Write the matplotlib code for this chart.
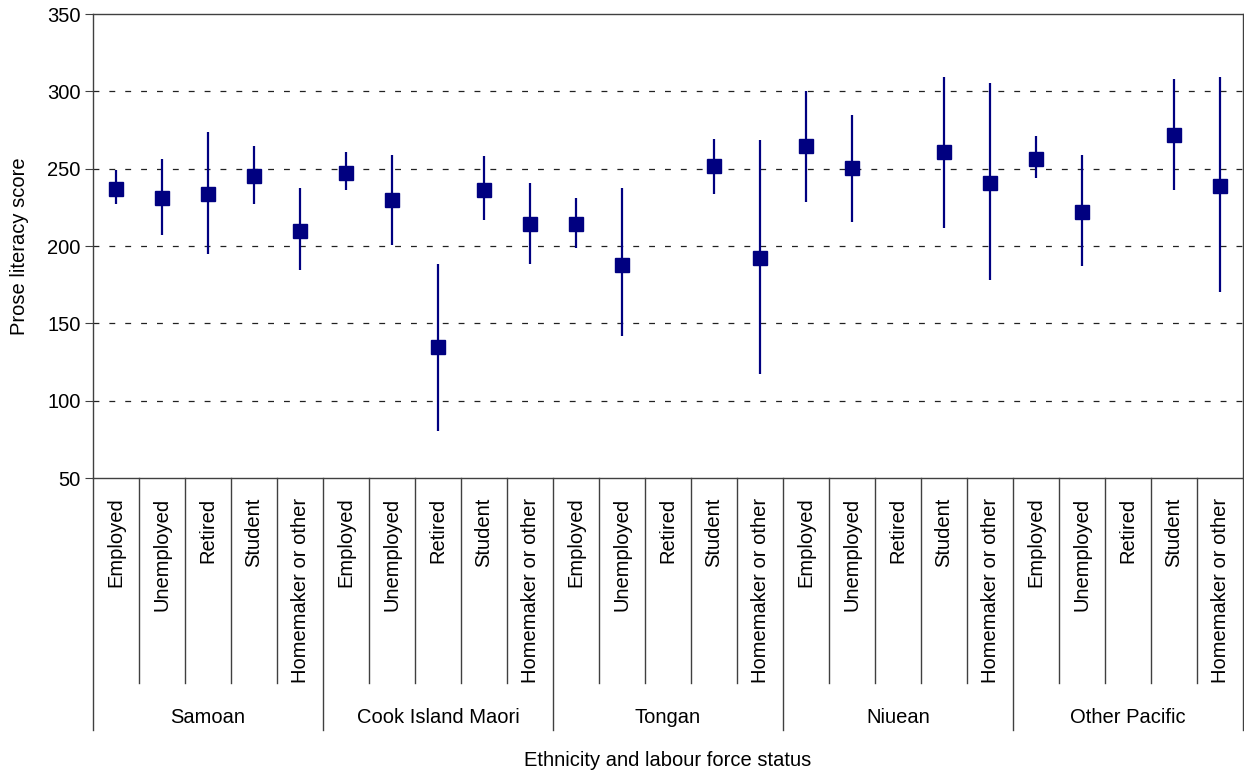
import numpy as np
import matplotlib.pyplot as plt

plt.rcParams.update({
    "font.family": ["Liberation Sans", "DejaVu Sans"],
    "font.size": 14.5,
})

# Categories
groups = ["Samoan", "Cook Island Maori", "Tongan", "Niuean", "Other Pacific"]
statuses = ["Employed", "Unemployed", "Retired", "Student", "Homemaker or other"]

# Mean scores with 95% interval (nan = not reported)
mean = [237, 231, 233.5, 245, 210,
        247.5, 229.5, 134.5, 236, 214,
        214, 188, np.nan, 251.5, 192,
        264.5, 250.5, np.nan, 260.5, 241,
        256.5, 222, np.nan, 272, 238.5]
lower = [227, 207, 195, 227, 184.5,
         236.5, 200.5, 80.5, 217, 188.5,
         199, 142, np.nan, 233.5, 117.5,
         228.5, 215.5, np.nan, 211.5, 178,
         244, 187, np.nan, 236.5, 170.5]
upper = [249, 256.5, 273.5, 264.5, 237.5,
         260.5, 259, 188.5, 258, 241,
         231, 237.5, np.nan, 269.5, 268.5,
         300.5, 285, np.nan, 309.5, 305.5,
         271, 259, np.nan, 308, 309.5]

mean = np.array(mean)
yerr = [mean - np.array(lower), np.array(upper) - mean]
labels = statuses * len(groups)
x = np.arange(len(labels))

fig = plt.figure(figsize=(12.44, 7.76), dpi=100)
ax = fig.add_axes([93 / 1244, 1 - 478 / 776, 1150 / 1244, 464 / 776])

navy = "#000080"
frame = "#404040"

ax.errorbar(x, mean, yerr=yerr, fmt="s", color=navy, ecolor=navy,
            markersize=10, elinewidth=1.6, capsize=0, zorder=3)

ax.set_xlim(-0.5, len(labels) - 0.5)
ax.set_ylim(50, 350)
ax.set_yticks(range(50, 351, 50))
for v in range(100, 301, 50):
    ax.axhline(v, color="#222222", lw=0.9, ls=(0, (4.7, 8)), zorder=1)

for s in ax.spines.values():
    s.set_color(frame)
    s.set_linewidth(1)

ax.tick_params(axis="y", direction="out", length=6, color=frame, pad=3)
ax.set_xticks(x)
ax.set_xticklabels(labels, rotation=90, va="top", ha="center")
ax.tick_params(axis="x", length=0, pad=14)

# category separators below the axis
trans = ax.get_xaxis_transform()
for i in range(len(labels) + 1):
    b = i - 0.5
    if i % 5 == 0:
        ax.plot([b, b], [0, -0.543], transform=trans, color=frame, lw=1, clip_on=False)
    else:
        ax.plot([b, b], [0, -0.442], transform=trans, color=frame, lw=1, clip_on=False)

for k, g in enumerate(groups):
    ax.text(k * 5 + 2, -0.517, g, transform=trans, ha="center", va="center")

ax.text(0.5, -0.608, "Ethnicity and labour force status", transform=ax.transAxes,
        ha="center", va="center")
ax.set_ylabel("Prose literacy score")
ax.yaxis.set_label_coords(-0.0555, 0.5)

fig.savefig("out.png", dpi=100)
